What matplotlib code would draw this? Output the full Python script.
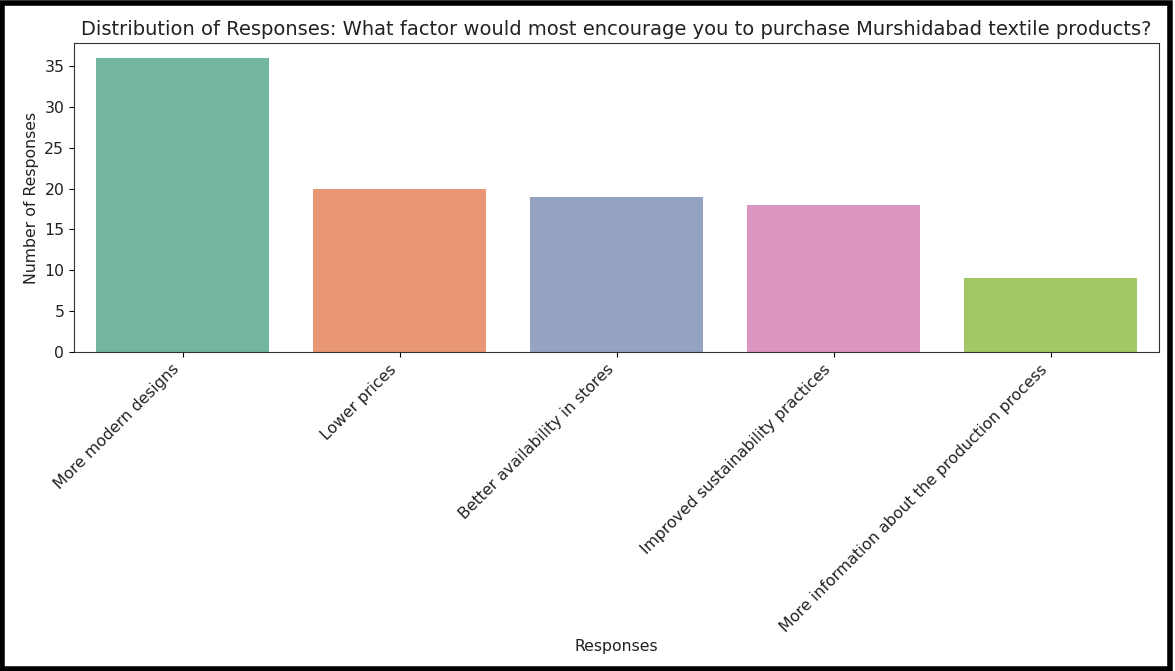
import matplotlib
matplotlib.use("Agg")
import matplotlib.pyplot as plt
import seaborn as sns
from matplotlib.patches import Rectangle

responses = [
    "More modern designs",
    "Lower prices",
    "Better availability in stores",
    "Improved sustainability practices",
    "More information about the production process",
]
counts = [36, 20, 19, 18, 9]

fig = plt.figure(figsize=(11.75, 6.71), dpi=100)
ax = fig.add_axes([74 / 1175, 1 - 352 / 671, (1159 - 74) / 1175, (352 - 43) / 671])

sns.barplot(x=responses, y=counts, hue=responses, palette="Set2", legend=False, ax=ax)

ax.set_title("Distribution of Responses: What factor would most encourage you to purchase Murshidabad textile products?",
             fontsize=14, color="#222222")
ax.set_xlabel("Responses", fontsize=11.3, color="#222222")
ax.set_ylabel("Number of Responses", fontsize=11.3, color="#222222")
ax.tick_params(labelsize=11.3, labelcolor="#222222")
for s in ax.spines.values():
    s.set_color("#333333")
plt.setp(ax.get_xticklabels(), rotation=45, ha="right", rotation_mode="default")
ax.xaxis.set_label_coords(0.5, -0.93)

# 外框
fig.patches.append(Rectangle((0.002, 0.003), 0.994, 0.992, transform=fig.transFigure,
                             fill=False, edgecolor="black", linewidth=4))

fig.savefig("out.png", dpi=100)
